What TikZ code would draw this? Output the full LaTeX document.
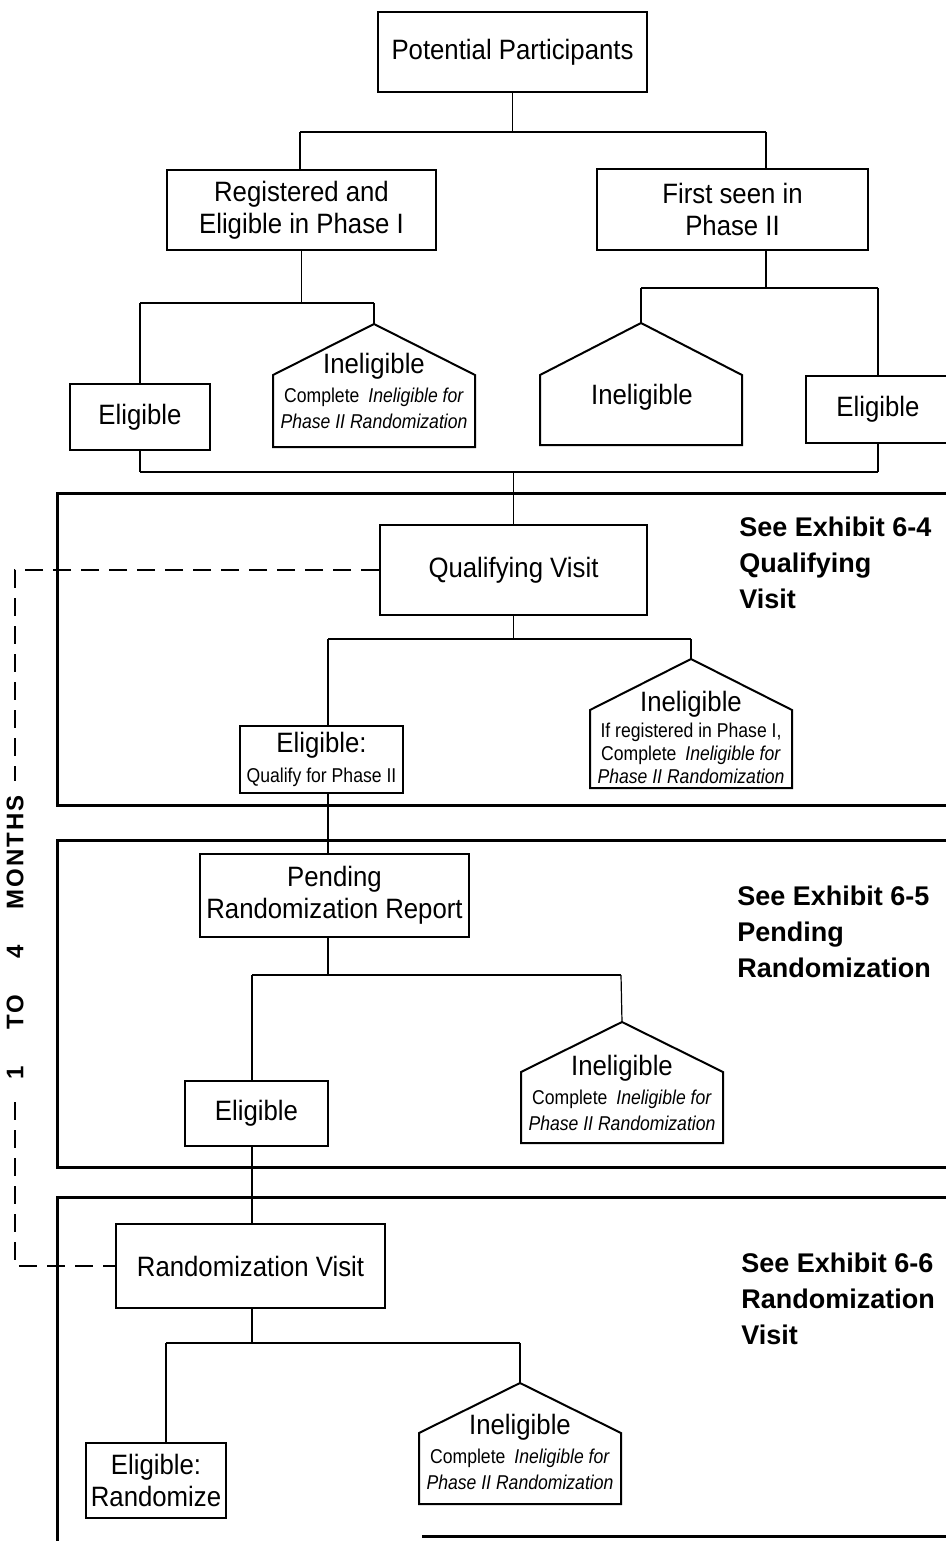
\documentclass[tikz,border=0pt]{standalone}
\usepackage{fontspec}
\setmainfont{Liberation Sans}
\newfontfamily\boxfont[FakeStretch=0.92]{Liberation Sans}
\newfontfamily\notefont[FakeStretch=0.88]{Liberation Sans}

\tikzset{
  stepbox/.style={draw, line width=1pt, fill=white, inner sep=0pt, align=center,
    font=\boxfont\fontsize{14}{16}\selectfont},
  housestyle/.style={draw, line width=1pt, fill=white, line join=miter},
  note/.style={inner sep=0pt, align=center, font=\notefont\fontsize{10}{13}\selectfont},
  stem/.style={line width=0.6pt},
  bar/.style={line width=1.1pt},
  frame/.style={line width=1.5pt},
  dashline/.style={line width=0.8pt, dash pattern=on 9pt off 5pt},
  exref/.style={inner sep=0pt, anchor=north west, align=left,
    font=\bfseries\fontsize{13.5}{18}\selectfont},
}

% pentagon "house" outline: name, left, right, apex y, shoulder y, bottom y
\newcommand\house[6]{%
  \coordinate (#1-apex) at ({(#2+#3)/2},#4);
  \draw[housestyle] (#2,#6) -- (#2,#5) -- (#1-apex) -- (#3,#5) -- (#3,#6) -- cycle;}

\newcommand\hd[1]{{\boxfont\fontsize{14}{16}\selectfont #1}}

\begin{document}
\begin{tikzpicture}[x=0.5pt,y=-0.5pt]
\useasboundingbox (0,0) rectangle (946,1541);
\fill[white] (0,0) rectangle (946,1541);
\clip (0,0) rectangle (946,1541);

% phase frames (open to the right)
\draw[frame] (1000,493) -- (57,493) -- (57,805) -- (1000,805);
\draw[frame] (1000,840) -- (57,840) -- (57,1167) -- (1000,1167);
\draw[frame] (1000,1197) -- (57,1197) -- (57,1545);
\draw[frame] (422,1536) -- (1000,1536);

% boxes
\node[stepbox, minimum width=134.5pt, minimum height=40pt] (pp) at (512.5,52) {Potential Participants};
\node[stepbox, minimum width=134.5pt, minimum height=40pt] (reg) at (301.5,210) {Registered and\\Eligible in Phase I};
\node[stepbox, minimum width=135.5pt, minimum height=40.5pt] (fs) at (732.5,209.5) {First seen in\\Phase II};
\node[stepbox, minimum width=70pt, minimum height=33pt] (el1) at (140,417) {Eligible};
\node[stepbox, minimum width=72pt, minimum height=33.5pt] (el2) at (878,409.5) {Eligible};
\node[stepbox, minimum width=133.5pt, minimum height=45pt] (qv) at (513.5,570) {Qualifying Visit};
\node[stepbox, minimum width=81.5pt, minimum height=33.5pt] (elq) at (321.5,759.5)
  {Eligible:\\[-1pt]{\notefont\fontsize{10}{12}\selectfont Qualify for Phase II}};
\node[stepbox, minimum width=134.5pt, minimum height=41.5pt] (pend) at (334.5,895.5) {Pending\\Randomization Report};
\node[stepbox, minimum width=71.5pt, minimum height=32.5pt] (el4) at (256.5,1113.5) {Eligible};
\node[stepbox, minimum width=134.5pt, minimum height=42pt] (rv) at (250.5,1266) {Randomization Visit};
\node[stepbox, minimum width=70pt, minimum height=37.5pt] (elr) at (156,1480.5) {Eligible:\\Randomize};

% ineligible houses
\house{h1}{273}{475}{324}{375}{447}
\house{h2}{540}{742}{323}{375}{445}
\house{h3}{590}{792}{659}{710}{788}
\house{h4}{521}{723}{1022}{1072}{1143}
\house{h5}{419}{621}{1383}{1433}{1504}

\node[note] (h1t) at (374,391) {\hd{Ineligible}\\[1.5pt]Complete\hspace{2pt} \textit{Ineligible for}\\\textit{Phase II Randomization}};
\node[note] (h2t) at (642,397) {\hd{Ineligible}};
\node[note, font=\notefont\fontsize{10}{11.5}\selectfont] (h3t) at (691,737) {\hd{Ineligible}\\[1.5pt]If registered in Phase I,\\Complete\hspace{2pt} \textit{Ineligible for}\\\textit{Phase II Randomization}};
\node[note] (h4t) at (622,1093) {\hd{Ineligible}\\[1.5pt]Complete\hspace{2pt} \textit{Ineligible for}\\\textit{Phase II Randomization}};
\node[note] (h5t) at (520,1452) {\hd{Ineligible}\\[1.5pt]Complete\hspace{2pt} \textit{Ineligible for}\\\textit{Phase II Randomization}};

% exhibit references
\node[exref] (ref1) at (739,517) {See Exhibit 6-4\\Qualifying\\Visit};
\node[exref] (ref2) at (737,886) {See Exhibit 6-5\\Pending\\Randomization};
\node[exref] (ref3) at (741,1253) {See Exhibit 6-6\\Randomization\\Visit};

% tree connectors
\coordinate (b0l) at (300,132); \coordinate (b0r) at (766,132);
\draw[stem] (pp.south) -- (pp.south |- b0l);
\draw[bar] (b0l) -- (b0r);
\draw[stem] (b0l) -- (b0l |- reg.north);
\draw[stem] (b0r) -- (b0r |- fs.north);

\coordinate (b1l) at (140,303); \coordinate (b1r) at (374,303);
\draw[stem] (reg.south) -- (reg.south |- b1l);
\draw[bar] (b1l) -- (b1r);
\draw[stem] (b1l) -- (el1.north);
\draw[stem] (b1r) -- (h1-apex);

\coordinate (b2l) at (641,288); \coordinate (b2r) at (878,288);
\draw[stem] (b0r |- fs.south) -- (b0r |- b2l);
\draw[bar] (b2l) -- (b2r);
\draw[stem] (b2l) -- (h2-apex);
\draw[stem] (b2r) -- (el2.north);

\coordinate (m0) at (513,472);
\draw[stem] (el1.south) -- (el1.south |- m0);
\draw[stem] (el2.south) -- (el2.south |- m0);
\draw[bar] (el1.south |- m0) -- (el2.south |- m0);
\draw[stem] (qv.north |- m0) -- (qv.north);

\coordinate (b3l) at (328,639); \coordinate (b3r) at (691,639);
\draw[stem] (qv.south) -- (qv.south |- b3l);
\draw[bar] (b3l) -- (b3r);
\draw[stem] (b3l) -- (b3l |- elq.north);
\draw[stem] (b3r) -- (h3-apex);
\draw[stem] (b3l |- elq.south) -- (b3l |- pend.north);

\coordinate (b4l) at (252,975); \coordinate (b4r) at (621,975);
\draw[stem] (b3l |- pend.south) -- (b3l |- b4l);
\draw[bar] (b4l) -- (b4r);
\draw[stem] (b4l) -- (b4l |- el4.north);
\draw[stem] (b4r) -- (h4-apex);
\draw[stem] (b4l |- el4.south) -- (b4l |- rv.north);

\coordinate (b5l) at (166,1343); \coordinate (b5r) at (520,1343);
\draw[stem] (b4l |- rv.south) -- (b4l |- b5l);
\draw[bar] (b5l) -- (b5r);
\draw[stem] (b5l) -- (b5l |- elr.north);
\draw[stem] (b5r) -- (h5-apex);

% time span bracket
\coordinate (dx) at (15,0);
\draw[dashline] (qv.west) -- (qv.west -| dx) -- (rv.west -| dx) -- (rv.west);
\node[rotate=90, fill=white, inner xsep=7pt, inner ysep=4pt, font=\bfseries\fontsize{12}{12}\selectfont] (months) at (15,937)
  {1\hspace{18pt}T\kern1pt O\hspace{18pt}4\hspace{18pt}M\kern1pt O\kern1pt N\kern1pt T\kern1pt H\kern1pt S};
\end{tikzpicture}
\end{document}
